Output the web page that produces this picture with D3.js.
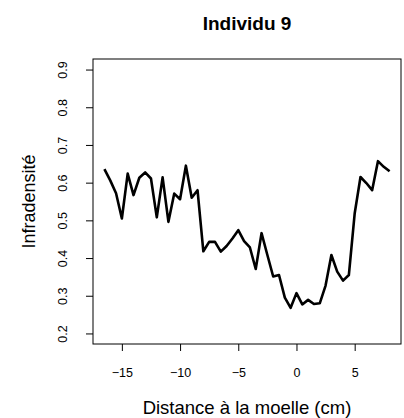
<!DOCTYPE html>
<html>
<head>
<meta charset="utf-8">
<script src="https://cdn.jsdelivr.net/npm/d3@7"></script>
<style>
  body { margin: 0; background: #ffffff; }
  svg text { font-family: "Liberation Sans", Arial, Helvetica, sans-serif; fill: #000; }
</style>
</head>
<body>
<svg id="chart" width="404" height="418"></svg>
<script>
// ---- data ----
const distances = [-16.5, -16, -15.5, -15, -14.5, -14, -13.5, -13, -12.5, -12,
                   -11.5, -11, -10.5, -10, -9.5, -9, -8.5, -8, -7.5, -7,
                   -6.5, -6, -5.5, -5, -4.5, -4, -3.5, -3, -2.5, -2,
                   -1.5, -1, -0.5, 0, 0.5, 1, 1.5, 2, 2.5, 3,
                   3.5, 4, 4.5, 5, 5.5, 6, 6.5, 7, 7.5, 8];
const infradensite = [0.636, 0.606, 0.572, 0.505, 0.624, 0.567, 0.613, 0.627, 0.611, 0.508,
                      0.614, 0.496, 0.571, 0.556, 0.645, 0.560, 0.580, 0.418, 0.443, 0.443,
                      0.417, 0.432, 0.452, 0.474, 0.445, 0.428, 0.371, 0.466, 0.408, 0.351,
                      0.355, 0.295, 0.268, 0.307, 0.277, 0.289, 0.278, 0.280, 0.327, 0.408,
                      0.364, 0.340, 0.355, 0.518, 0.615, 0.599, 0.580, 0.657, 0.642, 0.630];
const xTicks = [-15, -10, -5, 0, 5];
const yTicks = [0.2, 0.3, 0.4, 0.5, 0.6, 0.7, 0.8, 0.9];
const yLimits = [0.2, 0.9];
const chartTitle = "Individu 9";
const xTitle = "Distance à la moelle (cm)";
const yTitle = "Infradensité";

(function () {
  // ---- layout ----
  const mLeft = 93, mRight = 401, mTop = 59, mBottom = 344;

  const svg = d3.select("#chart");

  // R-style 4% extension of the ranges
  const xExt = d3.extent(distances);
  const xPad = (xExt[1] - xExt[0]) * 0.04;
  const x = d3.scaleLinear().domain([xExt[0] - xPad, xExt[1] + xPad]).range([mLeft, mRight]);
  const yPad = (yLimits[1] - yLimits[0]) * 0.04;
  const y = d3.scaleLinear().domain([yLimits[0] - yPad, yLimits[1] + yPad]).range([mBottom, mTop]);

  // x axis
  const gx = svg.append("g")
    .attr("transform", `translate(0,${mBottom})`)
    .call(d3.axisBottom(x).tickValues(xTicks).tickSize(7).tickPadding(17).tickFormat(d3.format("d")));
  gx.select(".domain").remove();
  gx.selectAll(".tick line").attr("stroke", "#000").attr("stroke-width", 1);
  gx.selectAll(".tick text").attr("font-size", 12.5).attr("font-family", null);

  // y axis
  const gy = svg.append("g")
    .attr("transform", `translate(${mLeft},0)`)
    .call(d3.axisLeft(y).tickValues(yTicks).tickSize(7).tickFormat(d3.format(".1f")));
  gy.select(".domain").remove();
  gy.selectAll(".tick line").attr("stroke", "#000").attr("stroke-width", 1);
  gy.selectAll(".tick text")
    .attr("x", 0).attr("dy", 0)
    .attr("text-anchor", "middle")
    .attr("font-size", 12.5).attr("font-family", null)
    .attr("transform", "translate(-26.5,0) rotate(-90)");

  // plot box
  svg.append("rect")
    .attr("x", mLeft).attr("y", mTop)
    .attr("width", mRight - mLeft).attr("height", mBottom - mTop)
    .attr("fill", "none").attr("stroke", "#000").attr("stroke-width", 1);

  // data line
  const line = d3.line().x((d, i) => x(distances[i])).y(d => y(d));
  svg.append("path")
    .datum(infradensite)
    .attr("d", line)
    .attr("fill", "none")
    .attr("stroke", "#000")
    .attr("stroke-width", 2.6)
    .attr("stroke-linejoin", "round")
    .attr("stroke-linecap", "butt");

  // titles
  svg.append("text")
    .attr("x", (mLeft + mRight) / 2).attr("y", 30)
    .attr("text-anchor", "middle")
    .attr("font-size", 19).attr("font-weight", "bold")
    .text(chartTitle);

  svg.append("text")
    .attr("x", (mLeft + mRight) / 2).attr("y", 414)
    .attr("text-anchor", "middle")
    .attr("font-size", 18.5)
    .text(xTitle);

  svg.append("text")
    .attr("transform", `translate(35,${(mTop + mBottom) / 2}) rotate(-90)`)
    .attr("text-anchor", "middle")
    .attr("font-size", 18)
    .text(yTitle);
})();
</script>
</body>
</html>
